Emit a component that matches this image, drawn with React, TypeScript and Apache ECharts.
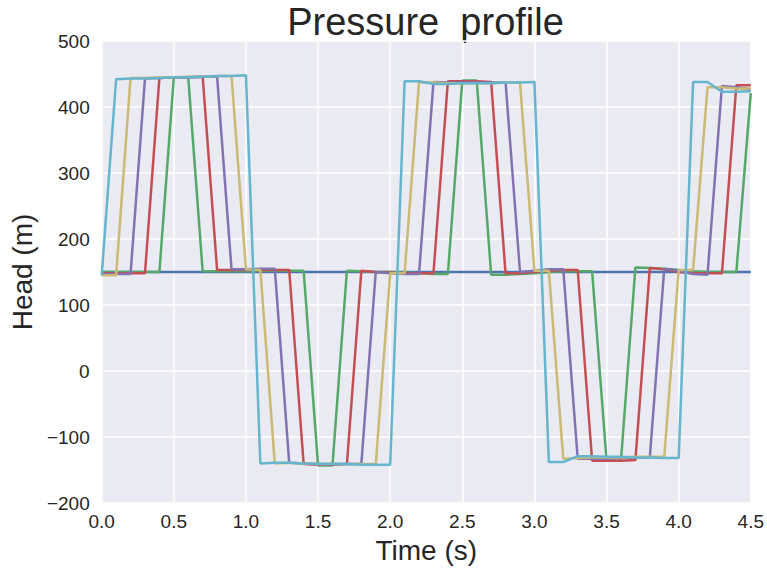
import React, { useEffect, useRef } from "react";
import * as echarts from "echarts";

const times = [
  0.0, 0.1, 0.2, 0.3, 0.4, 0.5, 0.6, 0.7, 0.8, 0.9,
  1.0, 1.1, 1.2, 1.3, 1.4, 1.5, 1.6, 1.7, 1.8, 1.9,
  2.0, 2.1, 2.2, 2.3, 2.4, 2.5, 2.6, 2.7, 2.8, 2.9,
  3.0, 3.1, 3.2, 3.3, 3.4, 3.5, 3.6, 3.7, 3.8, 3.9,
  4.0, 4.1, 4.2, 4.3, 4.4, 4.5,
];

const blueHead = [
  150, 150, 150, 150, 150, 150, 150, 150, 150, 150,
  150, 150, 150, 150, 150, 150, 150, 150, 150, 150,
  150, 150, 150, 150, 150, 150, 150, 150, 150, 150,
  150, 150, 150, 150, 150, 150, 150, 150, 150, 150,
  150, 150, 150, 150, 150, 150,
];

const greenHead = [
  150, 150, 150, 150, 150,
  445, 445,
  151, 151, 151, 151, 152, 152, 152, 152,
  -143, -143,
  152, 151, 150, 150, 149, 148, 147, 147,
  440, 440,
  146, 146, 147, 148, 150, 151, 151, 151,
  -136, -136,
  157, 156, 155, 153, 151, 150, 150, 150,
  421,
];

const redHead = [
  148, 148, 148, 148,
  444, 445, 445, 446,
  153, 153, 153, 153, 153, 153,
  -141, -142, -142, -141,
  152, 150, 149, 148, 148, 148,
  439, 439, 439, 438,
  148, 148, 150, 152, 153, 153,
  -136, -136, -136, -135,
  156, 154, 150, 148, 148, 148,
  433, 433,
];

const purpleHead = [
  147, 147, 147,
  443, 444, 445, 445, 446, 446,
  154, 154, 155, 155,
  -139, -140, -141, -141, -141, -141,
  150, 148, 147, 147,
  438, 437, 437, 437, 437, 437,
  150, 152, 154, 154,
  -133, -133, -133, -132, -131, -131,
  155, 152, 147, 146,
  432, 430, 427,
];

const yellowHead = [
  145, 145,
  444, 444, 445, 445, 446, 446, 447, 447,
  154, 153,
  -140, -139, -140, -141, -141, -141, -141, -141,
  148, 148,
  438, 437, 436, 436, 436, 436, 437, 437,
  152, 152,
  -133, -132, -131, -131, -131, -130, -130, -130,
  153, 153,
  430, 430, 428, 428,
];

const cyanHead = [
  145,
  442, 443, 443, 444, 445, 445, 446, 447, 447, 448,
  -140, -139, -139, -140, -141, -141, -141, -142, -142, -142,
  439, 439, 435, 435, 436, 436, 436, 437, 437, 438,
  -138, -138, -129, -129, -130, -130, -131, -131, -132, -132,
  438, 438, 423, 423, 424,
];

const seriesList = [
  { name: "blue", color: "#4C72B0", values: blueHead },
  { name: "green", color: "#55A868", values: greenHead },
  { name: "red", color: "#C44E52", values: redHead },
  { name: "purple", color: "#8172B2", values: purpleHead },
  { name: "yellow", color: "#CCB974", values: yellowHead },
  { name: "cyan", color: "#64B5CD", values: cyanHead },
];

const titleText = "Pressure  profile";
const xName = "Time (s)";
const yName = "Head (m)";

const FONT = "'Liberation Sans', Arial, Helvetica, sans-serif";
const TXT = "#262626";

export default function App() {
  const ref = useRef<HTMLDivElement>(null);

  useEffect(() => {
    if (!ref.current) return;
    const chart = echarts.init(ref.current, null, { renderer: "svg" });
    const gridLeft = 100;
    const gridRight = 16;
    const plotCenter = gridLeft + (767 - gridLeft - gridRight) / 2;
    chart.setOption({
      animation: false,
      backgroundColor: "#ffffff",
      textStyle: { fontFamily: FONT },
      graphic: [
        {
          type: "text",
          x: plotCenter,
          y: 22,
          style: {
            text: titleText,
            fill: TXT,
            font: `38px ${FONT}`,
            textAlign: "center",
            textVerticalAlign: "middle",
          },
        },
      ],
      grid: {
        left: gridLeft,
        right: gridRight,
        top: 41,
        bottom: 66,
        show: true,
        backgroundColor: "#EAEAF2",
        borderWidth: 0,
        containLabel: false,
      },
      xAxis: {
        type: "value",
        min: 0,
        max: 4.5,
        interval: 0.5,
        name: xName,
        nameLocation: "middle",
        nameGap: 33,
        nameTextStyle: { fontSize: 28, color: TXT, fontFamily: FONT },
        axisLine: { show: false },
        axisTick: { show: false },
        axisLabel: {
          fontSize: 19,
          color: TXT,
          margin: 9,
          fontFamily: FONT,
          formatter: (v: number) => v.toFixed(1),
        },
        splitLine: { show: true, lineStyle: { color: "#ffffff", width: 1.5 } },
      },
      yAxis: {
        type: "value",
        min: -200,
        max: 500,
        interval: 100,
        name: yName,
        nameLocation: "middle",
        nameGap: 64,
        nameTextStyle: { fontSize: 28, color: TXT, fontFamily: FONT },
        axisLine: { show: false },
        axisTick: { show: false },
        axisLabel: {
          fontSize: 19,
          color: TXT,
          margin: 12,
          fontFamily: FONT,
          formatter: (v: number) => String(v).replace("-", "\u2212"),
        },
        splitLine: { show: true, lineStyle: { color: "#ffffff", width: 1.5 } },
      },
      series: seriesList.map((s, i) => ({
        type: "line",
        name: s.name,
        data: times.map((t, j) => [t, s.values[j]]),
        showSymbol: false,
        symbol: "none",
        z: 2 + i,
        lineStyle: { color: s.color, width: 2.5 },
        itemStyle: { color: s.color },
      })),
    });
    return () => chart.dispose();
  }, []);

  return (
    <div
      ref={ref}
      style={{ position: "fixed", left: 0, top: 0, width: 767, height: 569 }}
    />
  );
}
